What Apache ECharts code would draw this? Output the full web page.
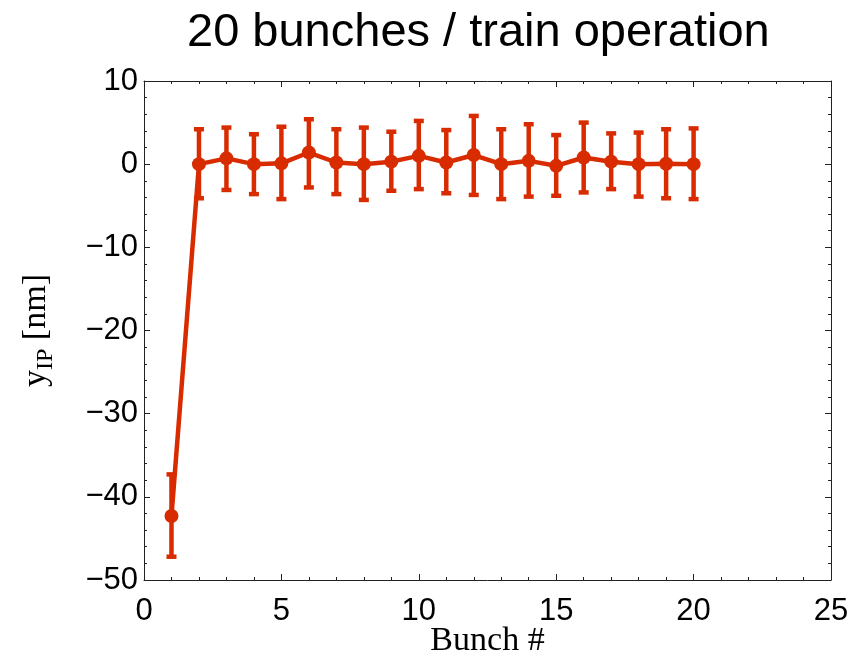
<!DOCTYPE html>
<html>
<head>
<meta charset="utf-8">
<script src="https://cdn.jsdelivr.net/npm/echarts@6/dist/echarts.min.js"></script>
<style>
  html, body { margin: 0; padding: 0; background: #fff; }
  #chart { width: 863px; height: 657px; }
</style>
</head>
<body>
<div id="chart"></div>
<script>
// Bunch-by-bunch vertical IP offset, mean with error bar extents (nm).
const bunches = [1, 2, 3, 4, 5, 6, 7, 8, 9, 10, 11, 12, 13, 14, 15, 16, 17, 18, 19, 20];
const yMean = [-42.3, 0.0, 0.7, 0.0, 0.1, 1.4, 0.2, 0.0, 0.3, 1.0, 0.2, 1.1, 0.0, 0.4, -0.2, 0.8, 0.3, 0.0, 0.05, 0.0];
const yTop = [-37.3, 4.2, 4.4, 3.6, 4.5, 5.4, 4.2, 4.4, 3.9, 5.2, 4.1, 5.8, 4.2, 4.8, 3.5, 5.0, 3.7, 3.8, 4.2, 4.3];
const yBottom = [-47.2, -4.1, -3.1, -3.6, -4.2, -2.8, -3.6, -4.3, -3.2, -3.0, -3.5, -3.7, -4.2, -3.9, -3.8, -3.4, -3.0, -3.9, -4.1, -4.2];

const xTicks = { min: 0, max: 25, interval: 5 };
const yTicks = { min: -50, max: 10, interval: 10 };

const RED = "#d82c00";
const INK = "#222";
const minus = (v) => String(v).replace("-", "\u2212");

const frame = {
  axisLine: { show: true, onZero: false, lineStyle: { color: INK, width: 1 } },
  axisTick: { show: true, inside: true, length: 6, lineStyle: { color: INK } },
  minorTick: { show: true, splitNumber: 5, length: 3, lineStyle: { color: INK } },
  splitLine: { show: false },
};
const tickFont = { color: "#000", fontFamily: "Liberation Sans", fontSize: 31 };

const chart = echarts.init(document.getElementById("chart"));
chart.setOption({
  animation: false,
  title: {
    text: "20 bunches / train operation",
    left: 182,
    top: 5,
    textStyle: { fontFamily: "Liberation Sans", fontWeight: "normal", fontSize: 47, color: "#000" },
  },
  grid: { left: 144, right: 32, top: 81, bottom: 77, containLabel: false, outerBoundsMode: "none" },
  xAxis: [
    {
      type: "value", position: "bottom", ...xTicks, ...frame,
      axisLabel: { ...tickFont, margin: 16, formatter: minus },
      name: "Bunch #",
      nameLocation: "middle",
      nameGap: 44,
      nameMoveOverlap: false,
      nameTextStyle: { fontFamily: "Liberation Serif", fontSize: 34, color: "#000" },
    },
    { type: "value", position: "top", ...xTicks, ...frame, axisLabel: { show: false } },
  ],
  yAxis: [
    {
      type: "value", position: "left", ...yTicks, ...frame,
      axisLabel: { ...tickFont, margin: 6, formatter: minus },
      name: "{a|y}{b|IP}{a| [nm]}",
      nameLocation: "middle",
      nameRotate: 90,
      nameGap: 86,
      nameMoveOverlap: false,
      nameTextStyle: {
        rich: {
          a: { fontFamily: "Liberation Serif", fontSize: 34, color: "#000", lineHeight: 44, verticalAlign: "middle" },
          b: { fontFamily: "Liberation Serif", fontSize: 24, color: "#000", lineHeight: 24, verticalAlign: "bottom" },
        },
      },
    },
    { type: "value", position: "right", ...yTicks, ...frame, axisLabel: { show: false } },
  ],
  series: [
    {
      type: "custom",
      xAxisIndex: 0,
      yAxisIndex: 0,
      data: bunches.map((b, i) => [b, yBottom[i], yTop[i]]),
      renderItem: (params, api) => {
        const x = api.value(0);
        const lo = api.coord([x, api.value(1)]);
        const hi = api.coord([x, api.value(2)]);
        const w = 5;
        const style = { stroke: RED, lineWidth: 4.5 };
        return {
          type: "group",
          children: [
            { type: "line", shape: { x1: hi[0], y1: hi[1], x2: lo[0], y2: lo[1] }, style },
            { type: "line", shape: { x1: hi[0] - w, y1: hi[1], x2: hi[0] + w, y2: hi[1] }, style },
            { type: "line", shape: { x1: lo[0] - w, y1: lo[1], x2: lo[0] + w, y2: lo[1] }, style },
          ],
        };
      },
    },
    {
      type: "line",
      xAxisIndex: 0,
      yAxisIndex: 0,
      data: bunches.map((b, i) => [b, yMean[i]]),
      symbol: "circle",
      symbolSize: 14,
      itemStyle: { color: RED },
      lineStyle: { color: RED, width: 4.5 },
      z: 3,
    },
  ],
});
</script>
</body>
</html>
